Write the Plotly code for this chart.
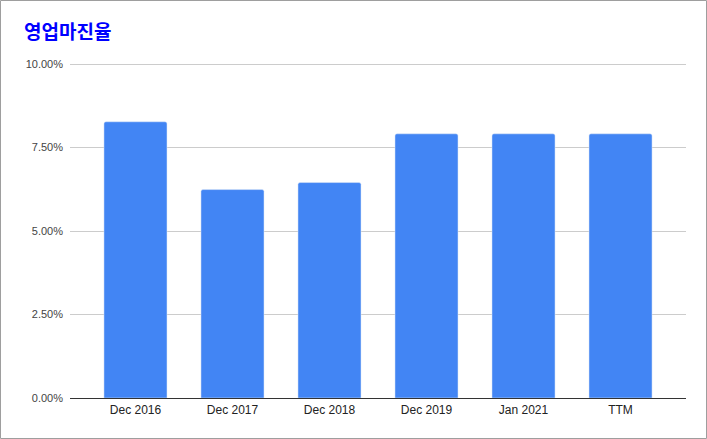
import plotly.graph_objects as go

periods = ["Dec 2016", "Dec 2017", "Dec 2018", "Dec 2019", "Jan 2021", "TTM"]
margins = [0.0827, 0.0624, 0.0645, 0.0791, 0.0791, 0.0791]
y_ticks = [0, 0.025, 0.05, 0.075, 0.10]

W, H = 707, 439
L, R, T, B = 70, 21, 64, 41

fig = go.Figure(go.Bar(
    x=periods, y=margins, marker_color="#4285f4", width=0.65,
    hovertemplate="%{x}: %{y:.2%}<extra></extra>",
))

pw, ph = W - L - R, H - T - B
fig.add_shape(type="rect", xref="paper", yref="paper",
              x0=-L / pw + 0.5 / pw, x1=1 + (R - 0.5) / pw,
              y0=-B / ph + 0.5 / ph, y1=1 + (T - 0.5) / ph,
              line=dict(color="#9e9e9e", width=1), fillcolor="rgba(0,0,0,0)", layer="above")
# plotly drops the gridline sitting on the top edge, so draw it by hand
# (nudged half a pixel down so it lands crisp on a pixel row)
fig.add_shape(type="line", xref="paper", yref="paper", x0=0, x1=1,
              y0=1 - 0.5 / ph, y1=1 - 0.5 / ph,
              line=dict(color="#cccccc", width=1), layer="below")

fig.update_layout(
    width=W, height=H,
    margin=dict(l=L, r=R, t=T, b=B),
    paper_bgcolor="white", plot_bgcolor="white",
    font=dict(family="Arial, Liberation Sans, sans-serif", size=11, color="#444"),
    title=dict(text="<b>영업마진율</b>", x=24 / W, xanchor="left", y=1 - 32 / H, yanchor="middle",
               font=dict(family="Noto Sans CJK KR, sans-serif", size=19, color="#0000ff")),
    barcornerradius=2,
    showlegend=False,
    xaxis=dict(range=[-0.675, 5.675], showgrid=False, ticks="", showline=False,
               ticklabelstandoff=3, tickfont=dict(size=12, color="#222")),
    yaxis=dict(range=[0, 0.1], tickvals=y_ticks, tickformat=".2%", gridcolor="#cccccc",
               zeroline=True, zerolinecolor="#333", zerolinewidth=1, ticks="",
               ticklabelstandoff=6, tickfont=dict(color="#444")),
)

# the page body has a default 8px margin; drop it so the chart sits at 0,0
fig.write_html("out.html", config={"displayModeBar": False},
               post_script="document.body.style.margin='0';")
